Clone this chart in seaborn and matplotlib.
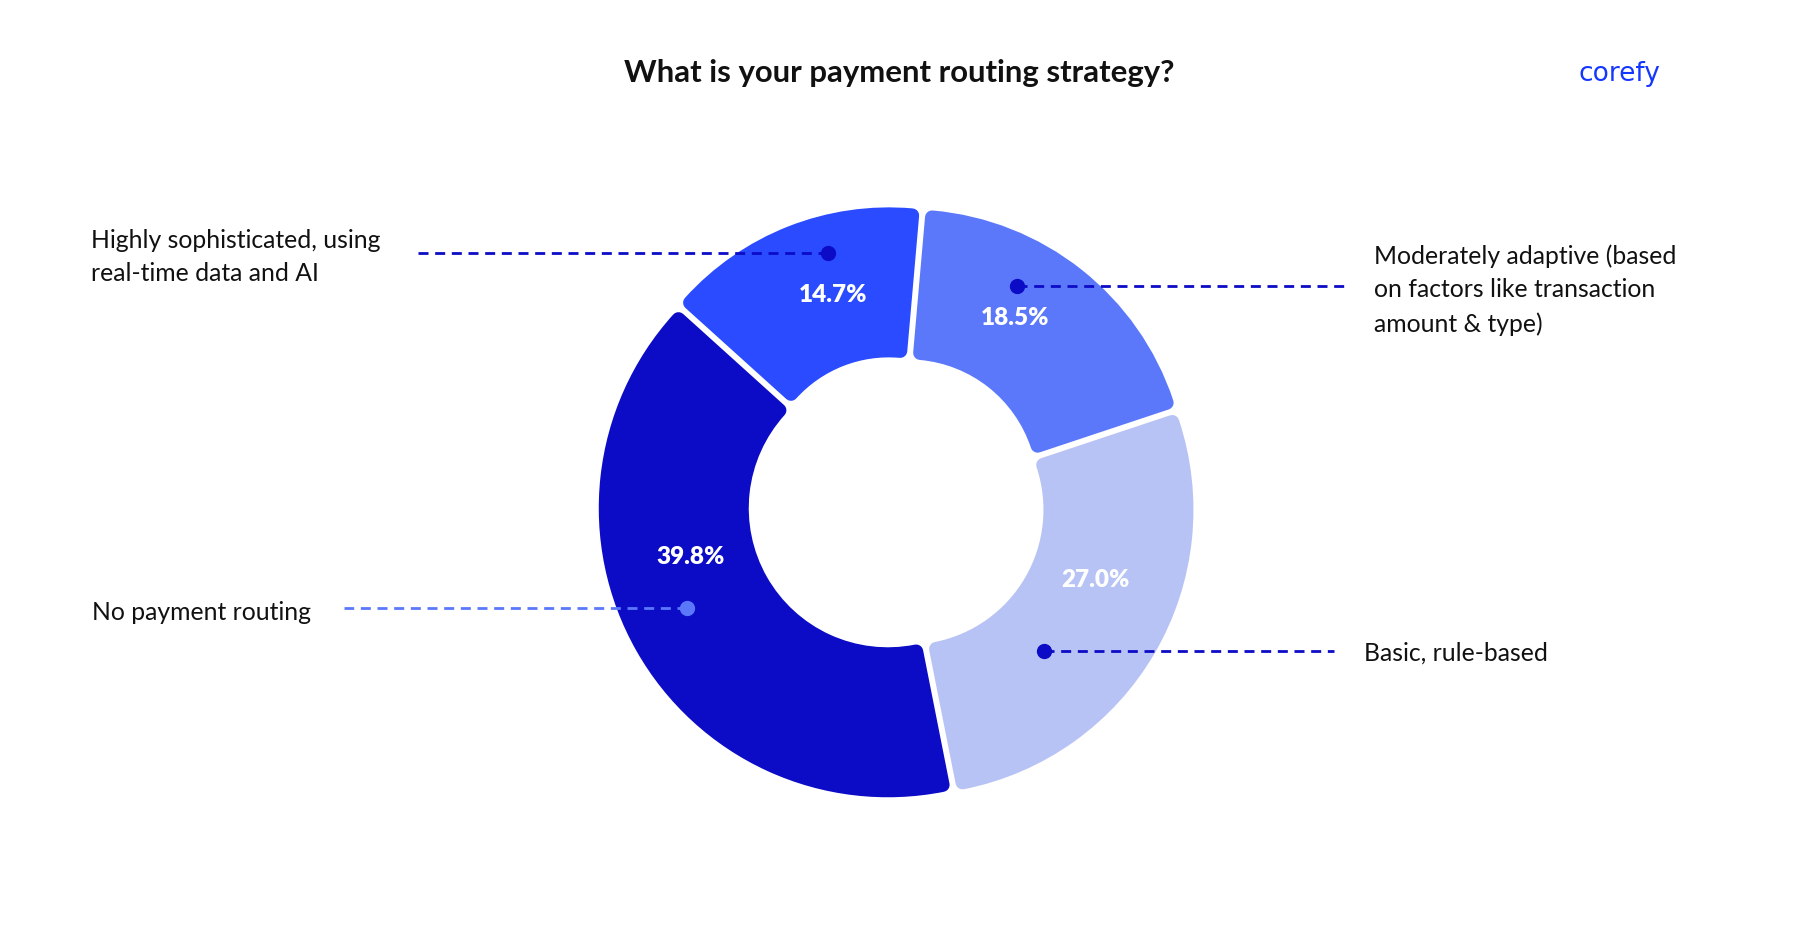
import matplotlib
matplotlib.use("Agg")
import matplotlib.pyplot as plt
import numpy as np
import seaborn as sns

# ---------------- data ----------------
categories = [
    "Moderately adaptive (based\non factors like transaction\namount & type)",
    "Basic, rule-based",
    "No payment routing",
    "Highly sophisticated, using\nreal-time data and AI",
]
shares = [18.5, 27.0, 39.8, 14.7]
pct_labels = ["18.5%", "27.0%", "39.8%", "14.7%"]
title = "What is your payment routing strategy?"
brand = "corefy"

# ---------------- style ----------------
seg_colors = ["#5B78FB", "#B8C3F5", "#0C0CC6", "#2A4BFF"]
dot_colors = ["#0C0CC6", "#0C0CC6", "#5B78FB", "#0C0CC6"]

# layout in pixel space (y measured from top)
W, H = 1800, 942
center_px = (897, 503)
r_out, r_in = 296, 146
gap, corner = 6, 7
pct_pos = [(1015, 318), (1095, 580), (691, 557), (833, 295)]
dot_pos = [(1017, 286), (1044, 651), (687, 608), (828, 253)]
line_end_x = [1345, 1334, 344, 413]
text_pos = [(1374, 290), (1364, 653), (92, 612), (91, 257)]

sns.set_theme(style="white")
plt.rcParams['font.family'] = ['Lato', 'DejaVu Sans']

fig = plt.figure(figsize=(18, 9.42), dpi=100)
fig.patch.set_facecolor("white")
ax = fig.add_axes([0, 0, 1, 1])

def Y(y):
    return H - y

C = (center_px[0], Y(center_px[1]))
wedges, _ = ax.pie(
    shares,
    colors=seg_colors,
    center=C,
    radius=r_out,
    startangle=85,
    counterclock=False,
    wedgeprops=dict(width=r_out - r_in, linewidth=0),
)

# parallel gaps + rounded corners: shift each wedge along its bisector,
# shrink it, then grow it back with a round-joined stroke of its own colour
s = corner + gap / 2
for w, col in zip(wedges, seg_colors):
    a = np.deg2rad(w.theta2 - w.theta1)
    m = np.deg2rad((w.theta1 + w.theta2) / 2)
    e = s / np.sin(a / 2)
    disp = (e + e * np.cos(a / 2)) / 2
    w.set_center((C[0] + e * np.cos(m), C[1] + e * np.sin(m)))
    w.set_radius(r_out - corner - disp)
    w.set_width(r_out - r_in - 2 * corner)
    w.set_edgecolor(col)
    w.set_linewidth(2 * corner * 72 / 100)
    w.set_joinstyle("round")

for i, lab in enumerate(pct_labels):
    x, y = pct_pos[i]
    ax.text(x, Y(y), lab, ha="center", va="center", color="white",
            fontsize=17.5, fontweight="heavy")
    dx, dy = dot_pos[i]
    ax.plot([dx, line_end_x[i]], [Y(dy), Y(dy)], color=dot_colors[i],
            lw=2.0, linestyle=(0, (3.6, 2.4)), solid_capstyle="butt", zorder=3)
    ax.plot([dx], [Y(dy)], "o", ms=10, color=dot_colors[i], zorder=4)
    tx, ty = text_pos[i]
    ax.text(tx, Y(ty), categories[i], ha="left", va="center", color="#111111",
            fontsize=17.8, linespacing=1.55)

ax.text(899, Y(73), title, ha="center", va="center", color="#111111",
        fontsize=22.4, fontweight="bold")
ax.text(1579, Y(74), brand, ha="left", va="center", color="#1437FF",
        fontsize=19, family=["DejaVu Sans"])

ax.set_xlim(0, W)
ax.set_ylim(0, H)
ax.set_aspect("equal")
ax.axis("off")

fig.savefig("out.png", dpi=100, facecolor="white")
